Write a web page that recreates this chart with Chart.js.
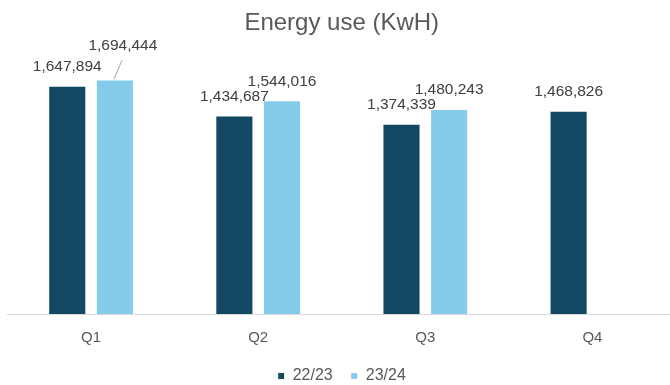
<!DOCTYPE html>
<html>
<head>
<meta charset="utf-8">
<title>Energy use</title>
<script src="https://cdn.jsdelivr.net/npm/chart.js@4.4.1/dist/chart.umd.min.js"></script>
<style>
  html, body { margin: 0; padding: 0; background: #fff; overflow: hidden; }
  #energyChart { display: block; }
</style>
</head>
<body>
<canvas id="energyChart" width="676" height="394"></canvas>
<script>
// quarterly energy consumption, two financial years
const quarters = ['Q1', 'Q2', 'Q3', 'Q4'];
const seriesNames = ['22/23', '23/24'];
const use2223 = [1647894, 1434687, 1374339, 1468826];
const use2324 = [1694444, 1544016, 1480243, null]; // Q4 not in yet

const darkBlue = '#124862';
const lightBlue = '#85CCEB';
const fontFamily = '"Liberation Sans", Arial, sans-serif';

// value labels above each bar; the Q1 23/24 label gets pushed up with a leader line
const valueLabels = {
    id: 'valueLabels',
    afterDatasetsDraw(chart) {
        const ctx = chart.ctx;
        ctx.save();
        ctx.font = '15.5px ' + fontFamily;
        ctx.fillStyle = '#404040';
        ctx.textAlign = 'center';
        ctx.textBaseline = 'middle';
        chart.data.datasets.forEach((ds, di) => {
            chart.getDatasetMeta(di).data.forEach((bar, i) => {
                const v = ds.data[i];
                if (v == null) return;
                let lx = bar.x, ly = bar.y - 19;
                if (di === 1 && i === 0) {
                    lx = bar.x + 8;
                    ly = bar.y - 34;
                    ctx.strokeStyle = '#a6a6a6';
                    ctx.lineWidth = 1;
                    ctx.beginPath();
                    ctx.moveTo(lx - 1, ly + 15);
                    ctx.lineTo(bar.x - 1, bar.y);
                    ctx.stroke();
                }
                ctx.fillText(v.toLocaleString('en-US'), lx, ly);
            });
        });
        ctx.restore();
    }
};

var energy = document.getElementById('energyChart');
var energyChart = new Chart(energy, {
    type: 'bar',
    data: {
        labels: quarters,
        datasets: [{
            label: seriesNames[0],
            data: use2223,
            backgroundColor: darkBlue,
            borderColor: '#ffffff',
            borderWidth: 1
        }, {
            label: seriesNames[1],
            data: use2324,
            backgroundColor: lightBlue,
            borderColor: '#ffffff',
            borderWidth: 1
        }]
    },
    options: {
        responsive: false,
        devicePixelRatio: 1,
        animation: false,
        categoryPercentage: 0.57,
        barPercentage: 0.8,
        layout: { padding: { left: 7.5, right: 0, top: 0, bottom: 0 } },
        scales: {
            x: {
                grid: { display: false },
                border: { display: true, color: '#d9d9d9', width: 1 },
                ticks: {
                    color: '#595959',
                    padding: 6.5,
                    font: { family: fontFamily, size: 15 }
                },
                afterFit(scale) { scale.height = 36; }
            },
            y: {
                display: false,
                min: 0,
                max: 1800000
            }
        },
        plugins: {
            title: {
                display: true,
                text: 'Energy use (KwH)',
                color: '#595959',
                padding: { top: 9, bottom: 27 },
                font: { family: fontFamily, size: 24, weight: 'normal' }
            },
            legend: {
                position: 'bottom',
                labels: {
                    color: '#595959',
                    boxWidth: 7,
                    boxHeight: 7,
                    padding: 18,
                    font: { family: fontFamily, size: 16 }
                }
            },
            tooltip: { enabled: false }
        }
    },
    plugins: [valueLabels]
});
</script>
</body>
</html>
